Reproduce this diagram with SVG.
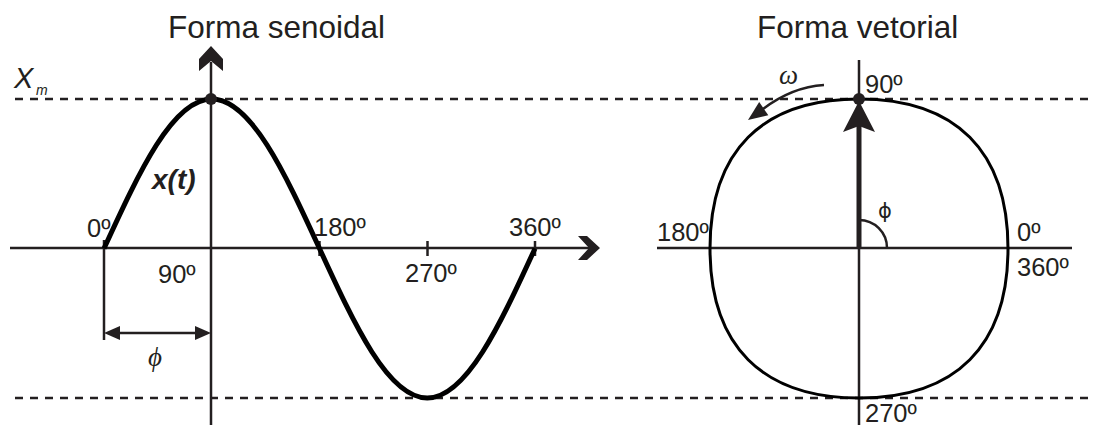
<svg xmlns="http://www.w3.org/2000/svg" width="1098" height="425" viewBox="0 0 1098 425">
<style>
.ax{stroke:#231f20;stroke-width:2.5;fill:none}
.dash{stroke:#231f20;stroke-width:2.5;stroke-dasharray:8 7;fill:none}
.fill{fill:#231f20;stroke:none}
.lbl{font-family:"Liberation Sans",Arial,sans-serif;font-size:25.5px;fill:#231f20}
.title{font-family:"Liberation Sans",Arial,sans-serif;font-size:31.5px;fill:#231f20}
</style>
<rect width="1098" height="425" fill="#fff"/>
<g id="guides">
<line class="dash" x1="15" y1="99" x2="1092" y2="99"/>
<line class="dash" x1="15" y1="398" x2="1092" y2="398"/>
</g>
<g id="sine-axes">
<line class="ax" x1="10" y1="248" x2="590" y2="248"/>
<polygon class="fill" points="600,248 587,236 578,236 589,248 578,260 587,260"/>
<line class="ax" x1="211" y1="62" x2="211" y2="425"/>
<polygon class="fill" points="211,46 223,59 223,71 211,61 199,71 199,59"/>
<line class="ax" x1="104" y1="240" x2="104" y2="340"/>
<line class="ax" x1="319.5" y1="241" x2="319.5" y2="256"/>
<line class="ax" x1="427.5" y1="241" x2="427.5" y2="256"/>
<line class="ax" x1="535" y1="241" x2="535" y2="256"/>
</g>
<g id="sine-curve">
<path d="M104,248.5 C139.1,171.9 172.8,99 211.75,99 C250.7,99 284.4,171.9 319.5,248.5 C354.6,325.1 388.3,398 427.25,398 C466.2,398 499.9,325.1 535,248.5" fill="none" stroke="#000" stroke-width="5"/>
<circle class="fill" cx="211" cy="99" r="6"/>
</g>
<g id="phase-dimension">
<line class="ax" x1="115" y1="333" x2="200" y2="333"/>
<polygon class="fill" points="104,333 120,326 120,340"/>
<polygon class="fill" points="211,333 195,326 195,340"/>
</g>
<g id="sine-labels">
<text class="title" x="168" y="38">Forma senoidal</text>
<text x="14" y="88" font-family="Liberation Sans,Arial,sans-serif" font-style="italic" font-size="29" fill="#231f20">X</text>
<text x="36" y="95" font-family="Liberation Sans,Arial,sans-serif" font-style="italic" font-size="14" fill="#231f20">m</text>
<text x="152" y="189" font-family="Liberation Sans,Arial,sans-serif" font-style="italic" font-weight="bold" font-size="28" fill="#231f20">x(t)</text>
<text class="lbl" x="87" y="237">0º</text>
<text class="lbl" x="158" y="283">90º</text>
<text class="lbl" x="314" y="236">180º</text>
<text class="lbl" x="405" y="282">270º</text>
<text class="lbl" x="509" y="236">360º</text>
<text x="148" y="366" font-family="Liberation Serif,serif" font-style="italic" font-size="27" fill="#231f20">ϕ</text>
</g>
<g id="phasor-axes">
<line class="ax" x1="657" y1="248" x2="1072" y2="248"/>
<line class="ax" x1="859" y1="60" x2="859" y2="425"/>
<path class="ax" d="M887,248 A28,28 0 0 0 859,220"/>
</g>
<g id="phasor-circle">
<path d="M710,248.5 C710,151.3 762.1,99 859,99 C955.9,99 1008,151.3 1008,248.5 C1008,345.7 955.9,398 859,398 C762.1,398 710,345.7 710,248.5 Z" fill="none" stroke="#000" stroke-width="3"/>
</g>
<g id="phasor-vector">
<line x1="859" y1="248" x2="859" y2="126" stroke="#231f20" stroke-width="5"/>
<polygon class="fill" points="859,101 875,132 859,126 843,132"/>
<circle class="fill" cx="859" cy="99" r="6"/>
</g>
<g id="rotation">
<path d="M824,85 Q792,87 763,109" class="ax"/>
<polygon class="fill" points="748,120 768.3,115.3 759.2,102.1"/>
</g>
<g id="phasor-labels">
<text class="title" x="757" y="38">Forma vetorial</text>
<text x="779" y="84" font-family="Liberation Serif,serif" font-style="italic" font-size="27" fill="#231f20">ω</text>
<text class="lbl" x="865" y="93">90º</text>
<text class="lbl" x="657" y="241">180º</text>
<text class="lbl" x="1017" y="241">0º</text>
<text class="lbl" x="1017" y="276">360º</text>
<text class="lbl" x="865" y="422">270º</text>
<text x="878" y="218" font-family="DejaVu Sans,sans-serif" font-size="21" fill="#231f20">ϕ</text>
</g>
</svg>
